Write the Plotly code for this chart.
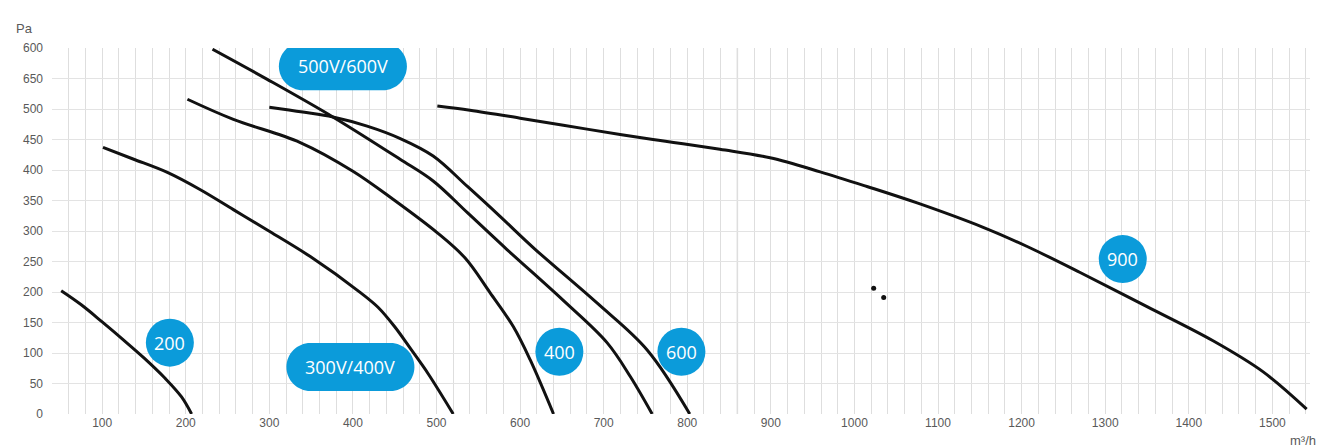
import plotly.graph_objects as go

# ---- data ----
c200_x = [51, 75, 100, 125, 150, 175, 195, 207]
c200_y = [202, 179, 151, 122, 92, 59, 28, 0]

c300_x = [101, 137, 178, 217, 257, 297, 349, 409, 430, 450, 470, 490, 520]
c300_y = [437, 418, 396, 368, 335, 302, 258, 199, 175, 143, 105, 66, 0]

c400_x = [202, 257, 337, 400, 448, 501, 534, 564, 592, 612, 640]
c400_y = [516, 483, 445, 398, 352, 297, 256, 199, 143, 89, 0]

c500v_x = [232, 297, 376, 456, 496, 537, 584, 651, 704, 732, 758]
c500v_y = [598, 549, 487, 418, 382, 330, 270, 187, 117, 61, 0]

c600v_x = [300, 340, 376, 417, 456, 496, 537, 576, 618, 692, 752, 803]
c600v_y = [503, 495, 487, 472, 452, 423, 373, 324, 270, 182, 105, 0]

c900_x = [501, 540, 600, 680, 759, 839, 899, 959, 1015, 1075, 1154, 1206, 1270, 1350, 1429, 1489, 1541]
c900_y = [505, 498, 485, 467, 450, 434, 420, 397, 373, 346, 306, 275, 232, 176, 120, 69, 8]

dots_x = [1023, 1035]
dots_y = [206, 191]

curves = [(c200_x, c200_y), (c300_x, c300_y), (c400_x, c400_y),
          (c500v_x, c500v_y), (c600v_x, c600v_y), (c900_x, c900_y)]

label_text = ["200", "300V/400V", "400", "600", "500V/600V", "900"]
label_x = [181, 397, 647, 793, 388, 1321]
label_y = [117, 77, 102, 102, 570, 254]
label_pill = [False, True, False, False, True, False]

x_ticks = list(range(100, 1600, 100))
y_tickvals = list(range(0, 650, 50))
y_ticktext = ["0", "50", "100", "150", "200", "250", "300", "350", "400", "450", "500", "650", "600"]

BLUE = "#0B9BDA"

fig = go.Figure()
for xs, ys in curves:
    fig.add_trace(go.Scatter(x=xs, y=ys, mode="lines",
                             line=dict(color="#111111", width=3, shape="spline", smoothing=1.0),
                             hoverinfo="skip", showlegend=False))
fig.add_trace(go.Scatter(x=dots_x, y=dots_y, mode="markers",
                         marker=dict(color="#111111", size=5), showlegend=False))

# darker vertical line seen in the grid
fig.add_vline(x=860, line=dict(color="#c4c4c4", width=1.3), layer="below")

k = 0.5523
def pill_path(w, h):
    r = h / 2
    a = w / 2 - r
    return (f"M {-a},{-r} L {a},{-r} "
            f"C {a + k*r},{-r} {a + r},{-k*r} {a + r},0 "
            f"C {a + r},{k*r} {a + k*r},{r} {a},{r} "
            f"L {-a},{r} "
            f"C {-a - k*r},{r} {-a - r},{k*r} {-a - r},0 "
            f"C {-a - r},{-k*r} {-a - k*r},{-r} {-a},{-r} Z")

for t, x, y, pill in zip(label_text, label_x, label_y, label_pill):
    if pill:
        fig.add_shape(type="path", xref="x", yref="y", xsizemode="pixel", ysizemode="pixel",
                      xanchor=x, yanchor=y, path=pill_path(128, 48),
                      fillcolor=BLUE, line=dict(width=0), layer="above")
    else:
        fig.add_shape(type="circle", xref="x", yref="y", xsizemode="pixel", ysizemode="pixel",
                      xanchor=x, yanchor=y, x0=-24, x1=24, y0=-24, y1=24,
                      fillcolor=BLUE, line=dict(width=0), layer="above")
    fig.add_annotation(x=x, y=y, text=t, showarrow=False,
                       font=dict(family="Open Sans", size=18, color="white"))

fig.add_annotation(xref="paper", yref="paper", x=0, y=1, xanchor="left", yanchor="middle",
                   xshift=-38, yshift=20, text="Pa", showarrow=False,
                   font=dict(family="Liberation Sans", size=13, color="#595959"))
fig.add_annotation(xref="paper", yref="paper", x=1, y=0, xanchor="right", yanchor="middle",
                   xshift=8, yshift=-26, text="m³/h", showarrow=False,
                   font=dict(family="Liberation Sans", size=13, color="#595959"))

# page body has an 8px default margin: compensate
fig.update_layout(
    width=1324, height=439,
    margin=dict(l=44, r=22, t=40, b=33),
    paper_bgcolor="white", plot_bgcolor="white",
    showlegend=False,
    xaxis=dict(range=[40, 1545], tickvals=x_ticks, ticktext=[str(v) for v in x_ticks],
               showgrid=True, gridcolor="#dedede", gridwidth=1,
               minor=dict(tick0=40, dtick=20, showgrid=True, gridcolor="#dedede", gridwidth=1),
               zeroline=False, showline=False, ticks="",
               tickfont=dict(family="Liberation Sans", size=12, color="#595959")),
    yaxis=dict(range=[0, 600], tickvals=y_tickvals, ticktext=y_ticktext,
               showgrid=True, gridcolor="#e3e3e3", gridwidth=1,
               zeroline=False, showline=False, ticks="", ticklabelstandoff=8,
               tickfont=dict(family="Liberation Sans", size=12, color="#595959")),
)

fig.write_html("out.html")
